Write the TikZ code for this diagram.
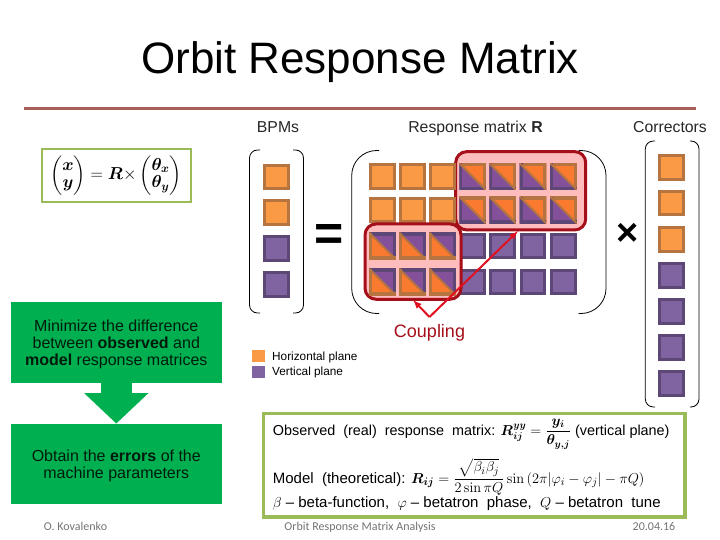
\documentclass[tikz,border=0pt]{standalone}
\usepackage[no-math]{fontspec}
\usepackage{amsmath}
\usepackage{amssymb}
\usepackage{bm}
\setmainfont{Liberation Sans}
\newfontfamily\footfont{Carlito}
\usetikzlibrary{arrows,arrows.meta}
\definecolor{cellorange}{HTML}{FA9A45}
\definecolor{edgeorange}{HTML}{B67540}
\definecolor{cellpurple}{HTML}{8064A2}
\definecolor{edgepurple}{HTML}{5C4777}
\definecolor{triorange}{HTML}{FA7A30}
\definecolor{tripurple}{HTML}{84509A}
\definecolor{blockred}{HTML}{A50F1A}
\definecolor{blockpink}{HTML}{FFBCBC}
\definecolor{linkred}{HTML}{E01020}
\definecolor{boxgreen}{HTML}{00B050}
\definecolor{eqgreen}{HTML}{9BBB59}
\definecolor{rulered}{HTML}{A85F5A}
\newcommand{\px}[2][1.05]{\fontsize{#2}{#1\dimexpr#2pt\relax}\selectfont}
\tikzset{
  every path/.style={line cap=butt},
  hcell/.style={draw=edgeorange,fill=cellorange,line width=3pt,minimum size=23.6pt,inner sep=0pt},
  vcell/.style={draw=edgepurple,fill=cellpurple,line width=3pt,minimum size=23.6pt,inner sep=0pt},
  mixcell/.style n args={4}{minimum size=26.6pt,inner sep=0pt,path picture={
    \fill[#1] (path picture bounding box.north west) -- (path picture bounding box.north east) -- (path picture bounding box.south east) -- cycle;
    \fill[#2] (path picture bounding box.north west) -- (path picture bounding box.south west) -- (path picture bounding box.south east) -- cycle;
    \draw[#3,line width=6pt] (path picture bounding box.north west) -- (path picture bounding box.north east) -- (path picture bounding box.south east);
    \draw[#4,line width=6pt] (path picture bounding box.north west) -- (path picture bounding box.south west) -- (path picture bounding box.south east);
    \draw[edgeorange,line width=2pt] (path picture bounding box.north west) -- (path picture bounding box.south east);}},
  hvcell/.style={mixcell={triorange}{tripurple}{edgeorange}{edgepurple}},
  vhcell/.style={mixcell={tripurple}{triorange}{edgepurple}{edgeorange}},
  redblock/.style={draw=blockred,fill=blockpink,line width=3pt,rounded corners=11pt,inner sep=0pt},
  bracket/.style={line width=0.8pt,rounded corners=#1},
  greenbox/.style={fill=boxgreen,inner sep=0pt,minimum width=210.7pt,minimum height=80.4pt,align=center,font=\px{16},text=black!85!boxgreen},
  head/.style={anchor=base,font=\px{15.8},text=black!85},
  formula/.style={anchor=base west,inner sep=0pt,font=\px{15}},
  keytext/.style={anchor=base west,font=\px{11.8},inner sep=0pt},
  foot/.style={anchor=base,font=\footfont\px{12},text=black!55}
}
\begin{document}
\begin{tikzpicture}[x=1pt,y=-1pt]
\useasboundingbox (0,0) rectangle (720,540);

\node [anchor=base,inner sep=0pt] (title) at (360,73.5) {\px{44}Orbit Response Matrix};
\coordinate (rulea) at (24,108.3);
\coordinate (ruleb) at (696,108.3);
\draw [rulered,line width=3pt] (rulea) -- (ruleb);

\node [head] (bpmlabel) at (278,132.5) {BPMs};
\node [head] (rlabel) at (475.5,132.5) {Response matrix \textbf{R}};
\node [head] (corrlabel) at (670,132.5) {Correctors};

\node [draw=eqgreen,line width=2pt,minimum width=149pt,minimum height=53pt,inner sep=0pt] (eqbox) at (116,175.5)
  {\px{16.5}$\begin{pmatrix}\bm{x}\\ \bm{y}\end{pmatrix}=\bm{R}{\times}\begin{pmatrix}\bm{\theta_x}\\ \bm{\theta_y}\end{pmatrix}$};

% left column
\node [greenbox] (minbox) at (116.3,342.5) {\rule{0pt}{15.5pt}Minimize the difference\\between \textbf{observed} and\\\textbf{model} response matrices};
\node [greenbox] (errbox) at (116.3,464) {\rule{0pt}{15.5pt}Obtain the \textbf{errors} of the\\machine parameters};
\draw [boxgreen,line width=30.4pt,-{Triangle[length=30.6pt,width=62.7pt]}] (minbox.south) -- (errbox.north);

% BPMs
\draw [bracket=8pt] (260,150) -- (249.5,150) -- (249.5,313) -- (260,313);
\draw [bracket=8pt] (293,150) -- (303.5,150) -- (303.5,313) -- (293,313);
\node [hcell] (bpma) at (276.7,177) {};
\node [hcell] (bpmb) at (276.7,212.5) {};
\node [vcell] (bpmc) at (276.7,248.5) {};
\node [vcell] (bpmd) at (276.7,284.3) {};

\node (equal) at (329,237.5) {\px{50}\textbf{=}};

% matrix
\draw [bracket=25pt] (379,150.5) -- (351.7,150.5) -- (351.7,313.5) -- (379,313.5);
\draw [bracket=25pt] (578.7,150.5) -- (606,150.5) -- (606,313.5) -- (578.7,313.5);
\node [redblock,minimum width=130pt,minimum height=78.3pt] (blocka) at (520.7,190.8) {};
\node [hcell] (ra) at (382.5,176.5) {};
\node [hcell] (rb) at (412.5,176.5) {};
\node [hcell] (rc) at (442.5,176.5) {};
\node [hvcell] (rd) at (472.6,176.5) {};
\node [hvcell] (re) at (502.6,176.5) {};
\node [hvcell] (rf) at (533,176.5) {};
\node [hvcell] (rg) at (563.5,176.5) {};
\node [hcell] (sa) at (382.5,210) {};
\node [hcell] (sb) at (412.5,210) {};
\node [hcell] (sc) at (442.5,210) {};
\node [hvcell] (sd) at (472.6,210) {};
\node [hvcell] (se) at (502.6,210) {};
\node [hvcell] (sf) at (533,210) {};
\node [hvcell] (sg) at (563.5,210) {};
\node [vcell] (td) at (472.6,246) {};
\node [vcell] (te) at (502.6,246) {};
\node [vcell] (tf) at (533,246) {};
\node [vcell] (tg) at (563.5,246) {};
\node [vcell] (ud) at (472.6,282) {};
\node [vcell] (ue) at (502.6,282) {};
\node [vcell] (uf) at (533,282) {};
\node [vcell] (ug) at (563.5,282) {};
\node [redblock,minimum width=96pt,minimum height=75.3pt] (blockb) at (413,261.6) {};
\node [vhcell] (ta) at (382.5,246) {};
\node [vhcell] (tb) at (412.5,246) {};
\node [vhcell] (tc) at (442.5,246) {};
\node [vhcell] (ua) at (382.5,282) {};
\node [vhcell] (ub) at (412.5,282) {};
\node [vhcell] (uc) at (442.5,282) {};

\coordinate (linkapex) at (429.5,317);
\coordinate (linka) at (413,300);
\coordinate (linkb) at (518,231);
\draw [linkred,line width=2pt,-latex] (linkapex) -- (linka);
\draw [linkred,line width=2pt,-latex] (linkapex) -- (linkb);
\node [anchor=base,font=\px{18},text=blockred] (coupling) at (429.5,337.3) {Coupling};

\node (times) at (628,234) {\px{38}\textbf{×}};

% correctors
\draw [bracket=8pt] (655,141) -- (645.3,141) -- (645.3,407) -- (655,407);
\draw [bracket=8pt] (690,141) -- (699,141) -- (699,407) -- (690,407);
\node [hcell] (cora) at (671.7,167.5) {};
\node [hcell] (corb) at (671.7,203) {};
\node [hcell] (corc) at (671.7,239.5) {};
\node [vcell] (cord) at (671.7,275.5) {};
\node [vcell] (core) at (671.7,311.5) {};
\node [vcell] (corf) at (671.7,347.5) {};
\node [vcell] (corg) at (671.7,383.5) {};

% legend
\node [fill=cellorange,minimum width=13pt,minimum height=12pt,inner sep=0pt] (hkey) at (258.5,356) {};
\node [fill=cellpurple,minimum width=13pt,minimum height=12pt,inner sep=0pt] (vkey) at (258.5,372) {};
\node [keytext] (htext) at (272,360.5) {Horizontal plane};
\node [keytext] (vtext) at (272,375.5) {Vertical plane};

% formulas
\node [draw=eqgreen,line width=3.5pt,minimum width=421.7pt,minimum height=103.7pt,inner sep=0pt] (formbox) at (474.2,465.2) {};
\node [formula,font=\px{14.4}] (forma) at (272.7,435) {Observed\ \ (real)\ \ response\ \ matrix: $\bm{R}_{\bm{ij}}^{\bm{yy}}=\dfrac{\bm{y_i}}{\bm{\theta_{y,j}}}$ (vertical plane)};
\node [formula] (formb) at (272.7,483) {Model\ \ (theoretical): $\bm{R_{ij}}=\dfrac{\sqrt{\beta_i\beta_j}}{2\sin\pi Q}\sin\,(2\pi|\varphi_i-\varphi_j|-\pi Q)$};
\node [formula] (formc) at (272.7,507.7) {$\beta$ -- beta-function,\ \ $\varphi$ -- betatron\ \ phase,\ \ $Q$ -- betatron\ \ tune};

\node [foot] (foota) at (75.5,530) {O. Kovalenko};
\node [foot] (footb) at (360,530) {Orbit Response Matrix Analysis};
\node [foot] (footc) at (654,530) {20.04.16};
\end{tikzpicture}
\end{document}
